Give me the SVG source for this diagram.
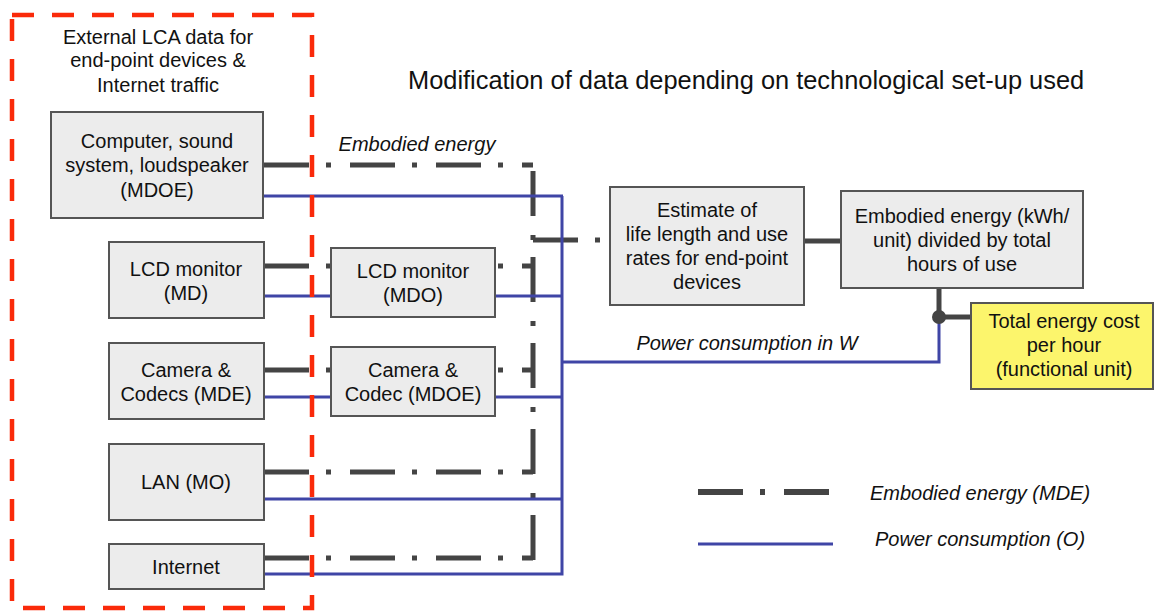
<svg xmlns="http://www.w3.org/2000/svg" width="1154" height="611" viewBox="0 0 1154 611">
<style>
text{font-family:"Liberation Sans",Arial,sans-serif;font-size:20px;fill:#111;}
.c{text-anchor:middle;}
.i{font-style:italic;}
.box{fill:#ececec;stroke:#555;stroke-width:2;}
.yel{fill:#fcf56c;stroke:#555;stroke-width:2;}
.dd{fill:none;stroke:#444;stroke-width:5;stroke-dasharray:45 17 5 19;}
.dk{fill:none;stroke:#444;stroke-width:5;}
.bl{fill:none;stroke:#3f45a6;stroke-width:3;}
</style>
<rect width="1154" height="611" fill="#fff"/>
<g id="connectors">
<line class="dd" x1="264" y1="165" x2="533" y2="165"/>
<line class="dd" x1="264" y1="266" x2="533" y2="266"/>
<line class="dd" x1="264" y1="370" x2="533" y2="370"/>
<line class="dd" x1="264" y1="472" x2="533" y2="472"/>
<line class="dd" x1="264" y1="558" x2="533" y2="558"/>
<line class="dd" x1="533" y1="560" x2="533" y2="168"/>
<line class="dd" x1="533" y1="240" x2="608" y2="240"/>
<line class="dk" x1="804" y1="241" x2="841" y2="241"/>
<line class="dk" x1="939" y1="288" x2="939" y2="317"/>
<line class="dk" x1="939" y1="317" x2="971" y2="317"/>
<line class="bl" x1="263" y1="196" x2="563" y2="196"/>
<line class="bl" x1="264" y1="296" x2="563" y2="296"/>
<line class="bl" x1="264" y1="397" x2="563" y2="397"/>
<line class="bl" x1="264" y1="499" x2="563" y2="499"/>
<polyline class="bl" points="264,574 562,574 562,196"/>
<polyline class="bl" points="562,362 939,362 939,317"/>
<circle cx="939" cy="317" r="7" fill="#444"/>
</g>
<rect id="lca-border" x="12" y="15" width="300" height="593" fill="none" stroke="#fa2a0a" stroke-width="4.5" stroke-dasharray="22 18"/>
<text class="c" x="158" y="44">External LCA data for</text>
<text class="c" x="158" y="67">end-point devices &amp;</text>
<text class="c" x="158" y="92">Internet traffic</text>
<text x="408" y="89" style="font-size:25.4px">Modification of data depending on technological set-up used</text>
<text class="c i" x="417" y="151">Embodied energy</text>
<text class="c i" x="747" y="350">Power consumption in W</text>
<g id="computer"><rect class="box" x="51" y="112" width="212" height="106"/>
<text class="c" x="157" y="148">Computer, sound</text><text class="c" x="157" y="172">system, loudspeaker</text><text class="c" x="157" y="197">(MDOE)</text></g>
<g id="lcd-md"><rect class="box" x="109" y="242" width="155" height="76"/>
<text class="c" x="186" y="276">LCD monitor</text><text class="c" x="186" y="300">(MD)</text></g>
<g id="camera-mde"><rect class="box" x="109" y="343" width="155" height="76"/>
<text class="c" x="186" y="377">Camera &amp;</text><text class="c" x="186" y="401">Codecs (MDE)</text></g>
<g id="lan"><rect class="box" x="109" y="444" width="155" height="76"/>
<text class="c" x="186" y="489">LAN (MO)</text></g>
<g id="internet"><rect class="box" x="109" y="544" width="155" height="45"/>
<text class="c" x="186" y="574">Internet</text></g>
<g id="lcd-mdo"><rect class="box" x="331" y="248" width="164" height="69"/>
<text class="c" x="413" y="278">LCD monitor</text><text class="c" x="413" y="302">(MDO)</text></g>
<g id="camera-mdoe"><rect class="box" x="331" y="347" width="164" height="69"/>
<text class="c" x="413" y="377">Camera &amp;</text><text class="c" x="413" y="401">Codec (MDOE)</text></g>
<g id="estimate"><rect class="box" x="610" y="187" width="194" height="118"/>
<text class="c" x="707" y="217">Estimate of</text><text class="c" x="707" y="241">life length and use</text><text class="c" x="707" y="265">rates for end-point</text><text class="c" x="707" y="289">devices</text></g>
<g id="embodied"><rect class="box" x="841" y="191" width="242" height="97"/>
<text class="c" x="962" y="223">Embodied energy (kWh/</text><text class="c" x="962" y="247">unit) divided by total</text><text class="c" x="962" y="271">hours of use</text></g>
<g id="total"><rect class="yel" x="971" y="303" width="182" height="86"/>
<text class="c" x="1064" y="328">Total energy cost</text><text class="c" x="1064" y="352">per hour</text><text class="c" x="1064" y="376">(functional unit)</text></g>
<g id="legend">
<line class="dd" x1="698" y1="492" x2="829" y2="492" style="stroke-width:6"/>
<text class="i" x="870" y="500">Embodied energy (MDE)</text>
<line class="bl" x1="698" y1="544" x2="833" y2="544"/>
<text class="i" x="875" y="546">Power consumption (O)</text>
</g>
</svg>
